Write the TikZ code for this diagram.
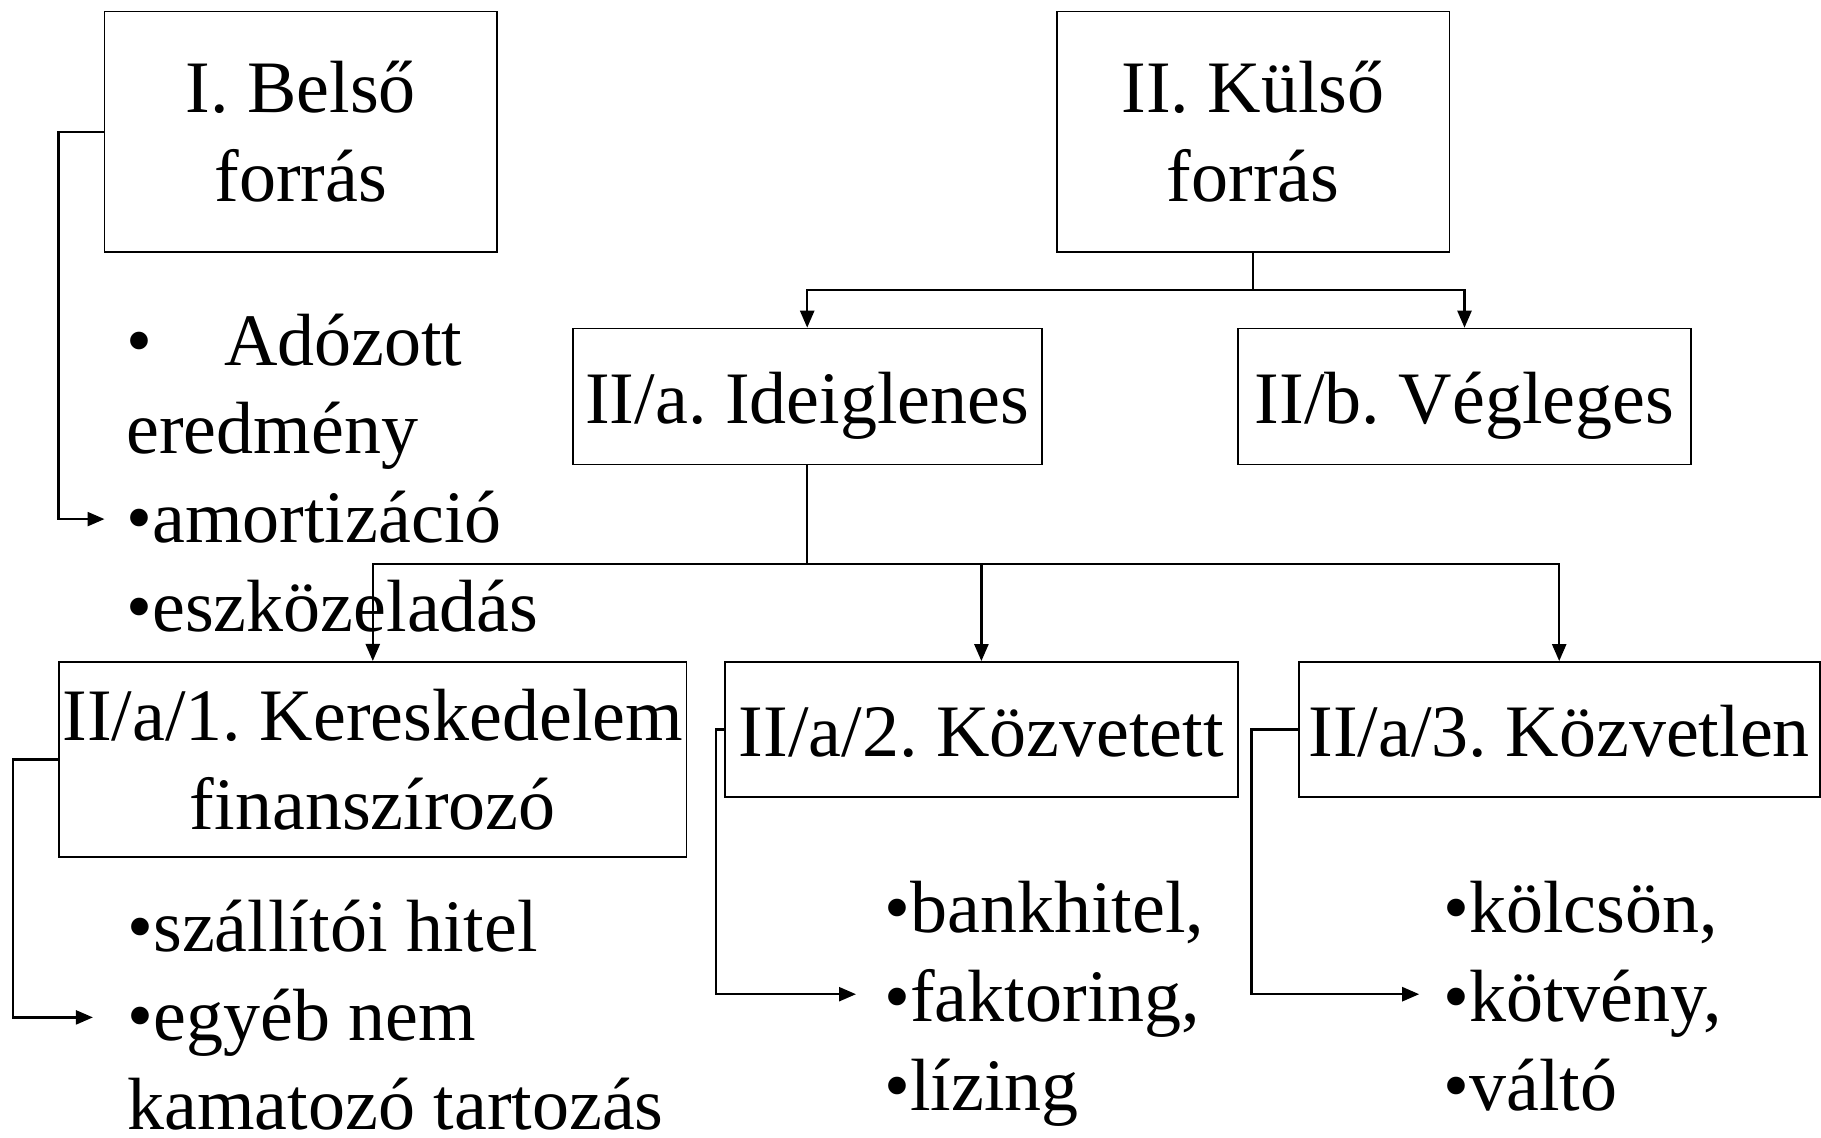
\documentclass[tikz,border=0pt]{standalone}
\usepackage{fontspec}
\setmainfont{Liberation Serif}
\usetikzlibrary{arrows.meta}
\frenchspacing

\begin{document}
\begin{tikzpicture}[x=0.5pt,y=-0.5pt,>={Triangle[length=8.5pt,width=7pt]},
  box/.style={draw=black,line width=0.9pt,rectangle,inner sep=0pt,
    font=\fontsize{37}{44.4}\selectfont},
  tworow/.style={align=center},
  onerow/.style={text height=27pt,text depth=0pt},
  items/.style={anchor=base west,inner sep=0pt,align=left,
    font=\fontsize{37}{44.4}\selectfont},
  link/.style={line width=1.2pt}]
\useasboundingbox[fill=white] (0,0) rectangle (1821,1138);
\node[box,tworow,minimum width=196.3pt,minimum height=120.2pt] at (300.8,131.8) (belso)
    {I. Belső\\forrás};
\node[box,tworow,minimum width=196.3pt,minimum height=120.2pt] at (1253.1,131.8) (kulso)
    {II. Külső\\forrás};
\node[box,onerow,minimum width=234.6pt,minimum height=68pt] at (807.2,396.6) (ideig)
    {II/a. Ideiglenes};
\node[box,onerow,minimum width=226.5pt,minimum height=68pt] at (1464.5,396.6) (vegleg)
    {II/b. Végleges};
\node[box,tworow,minimum width=313.6pt,minimum height=97.6pt] at (372.8,759.5) (keresk)
    {II/a/1. Kereskedelem\\finanszírozó};
\node[box,onerow,minimum width=256.7pt,minimum height=67.4pt] at (981.4,729.4) (kozvetett)
    {II/a/2. Közvetett};
\node[box,onerow,minimum width=260.4pt,minimum height=67.4pt] at (1559.2,729.4) (kozvetlen)
    {II/a/3. Közvetlen};
\node[items] at (126,631.4) (belsoList)
    {\makebox[1.32em][l]{•}Adózott\\eredmény\\•amortizáció\\•eszközeladás};
\node[items] at (127,1129) (kereskList)
    {•szállítói hitel\\•egyéb nem\\kamatozó tartozás};
\node[items] at (884,1110) (kozvetettList)
    {•bankhitel,\\•faktoring,\\•lízing};
\node[items] at (1443,1110) (kozvetlenList)
    {•kölcsön,\\•kötvény,\\•váltó};
\coordinate (belsoTip) at (104.5,519.1);
\coordinate (kereskTip) at (92.9,1017.4);
\coordinate (kozvetettTip) at (856,994.2);
\coordinate (kozvetlenTip) at (1419.2,994.2);
\draw[link,->] (kulso.south) -- ++(0,37.2) -| (ideig.north);
\draw[link,->] (kulso.south) -- ++(0,37.2) -| (vegleg.north);
\draw[link,->] (ideig.south) -- ++(0,98.7) -| (keresk.north);
\draw[link,->] (ideig.south) -- ++(0,98.7) -| (kozvetett.north);
\draw[link,->] (ideig.south) -- ++(0,98.7) -| (kozvetlen.north);
\draw[link,->] (belso.west) -- ++(-45.3,0) |- (belsoTip);
\draw[link,->] (keresk.west) -- ++(-45.3,0) |- (kereskTip);
\draw[link,->] (kozvetett.west) -- ++(-8.1,0) |- (kozvetettTip);
\draw[link,->] (kozvetlen.west) -- ++(-46.4,0) |- (kozvetlenTip);
\end{tikzpicture}
\end{document}
